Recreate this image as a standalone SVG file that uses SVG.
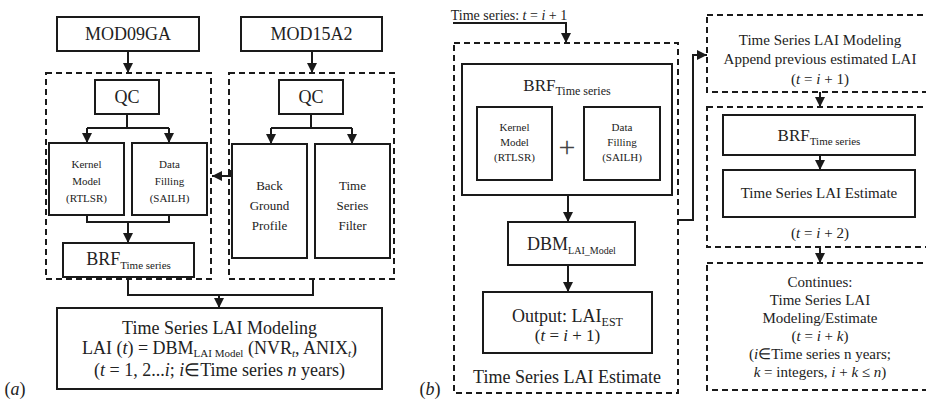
<svg xmlns="http://www.w3.org/2000/svg" width="926" height="401" viewBox="0 0 926 401">
<defs>
<marker id="ah" markerUnits="userSpaceOnUse" markerWidth="11" markerHeight="11" refX="10" refY="5" orient="auto">
<path d="M0,0 L10,5 L0,10 z" fill="#1a1a1a"/>
</marker>
<style>
.box{fill:#fff;stroke:#1a1a1a;stroke-width:2}
.dash{fill:none;stroke:#1a1a1a;stroke-width:2;stroke-dasharray:6 4}
.con{fill:none;stroke:#1a1a1a;stroke-width:2}
.arr{fill:none;stroke:#1a1a1a;stroke-width:2;marker-end:url(#ah)}
text{font-family:"Liberation Serif","Times New Roman",serif;fill:#222;text-anchor:middle}
.t18{font-size:18px}
.t17{font-size:17px}
.t15{font-size:15px}
.t13{font-size:13px}
.t11{font-size:11px}
.it{font-style:italic}
.sub{baseline-shift:-4px}
.sub3{baseline-shift:-3px}
</style>
</defs>
<rect width="926" height="401" fill="#fff"/>

<!-- panel (a) containers -->
<g id="a-group-left"><rect class="dash" x="46" y="73" width="165" height="206"/></g>
<g id="a-group-right"><rect class="dash" x="229" y="73" width="165" height="206"/></g>

<g id="mod09ga"><rect class="box" x="57" y="17" width="142" height="34"/><text class="t18" x="128" y="40">MOD09GA</text></g>
<g id="mod15a2"><rect class="box" x="241" y="17" width="141" height="34"/><text class="t18" x="311.5" y="40">MOD15A2</text></g>
<g id="qc-left"><rect class="box" x="95" y="80" width="64" height="34"/><text class="t18" x="127" y="103">QC</text></g>
<g id="qc-right"><rect class="box" x="279" y="80" width="64" height="34"/><text class="t18" x="311" y="103">QC</text></g>
<g id="kernel-a"><rect class="box" x="49" y="143" width="75" height="72"/>
<text class="t11" x="86.5" y="168">Kernel</text><text class="t11" x="86.5" y="185">Model</text><text class="t11" x="86.5" y="202">(RTLSR)</text></g>
<g id="filling-a"><rect class="box" x="132" y="143" width="75" height="72"/>
<text class="t11" x="169.5" y="168">Data</text><text class="t11" x="169.5" y="185">Filling</text><text class="t11" x="169.5" y="202">(SAILH)</text></g>
<g id="background"><rect class="box" x="232" y="144" width="75" height="114"/>
<text class="t13" x="269.5" y="190">Back</text><text class="t13" x="269.5" y="210">Ground</text><text class="t13" x="269.5" y="230">Profile</text></g>
<g id="tsfilter"><rect class="box" x="315" y="144" width="75" height="114"/>
<text class="t13" x="352.5" y="190">Time</text><text class="t13" x="352.5" y="210">Series</text><text class="t13" x="352.5" y="230">Filter</text></g>
<g id="brf-a"><rect class="box" x="63" y="243" width="131" height="34"/>
<text class="t18" x="128.5" y="265">BRF<tspan font-size="11" class="sub">Time series</tspan></text></g>
<g id="lai-modeling-a"><rect class="box" x="57" y="308" width="325" height="81"/>
<text class="t18" x="219.5" y="334">Time Series LAI Modeling</text>
<text class="t18" x="219.5" y="354">LAI (<tspan class="it">t</tspan>) = DBM<tspan font-size="11" class="sub3">LAI Model</tspan> (NVR<tspan font-size="11" class="sub3 it">t</tspan>, ANIX<tspan font-size="11" class="sub3 it">t</tspan>)</text>
<text class="t18" x="219.5" y="376">(<tspan class="it">t</tspan> = 1, 2...<tspan class="it">i</tspan>; <tspan class="it">i</tspan>∈Time series <tspan class="it">n</tspan> years)</text></g>
<g id="label-a"><text class="t18" x="15" y="395">(<tspan class="it">a</tspan>)</text></g>

<!-- panel (b) -->
<g id="b-group"><rect class="dash" x="454" y="43" width="224" height="350"/>
<text class="t18" x="567" y="383">Time Series LAI Estimate</text></g>
<g id="ts-label"><text x="509" y="20" style="font-size:14px">Time series: <tspan class="it">t</tspan> = <tspan class="it">i</tspan> + 1</text></g>
<g id="brf-b"><rect class="box" x="462" y="64" width="210" height="131"/>
<text class="t17" x="567" y="91">BRF<tspan font-size="12" class="sub">Time series</tspan></text></g>
<g id="kernel-b"><rect class="box" x="477" y="107" width="75" height="73"/>
<text class="t11" x="514.5" y="131">Kernel</text><text class="t11" x="514.5" y="146">Model</text><text class="t11" x="514.5" y="161">(RTLSR)</text></g>
<g id="plus"><text x="567" y="157" style="font-size:30px;fill:#444">+</text></g>
<g id="filling-b"><rect class="box" x="584" y="107" width="76" height="73"/>
<text class="t11" x="622" y="131">Data</text><text class="t11" x="622" y="146">Filling</text><text class="t11" x="622" y="161">(SAILH)</text></g>
<g id="dbm"><rect class="box" x="508" y="222" width="127" height="43"/>
<text class="t18" x="571.5" y="250">DBM<tspan font-size="10" class="sub">LAI_Model</tspan></text></g>
<g id="output"><rect class="box" x="483" y="292" width="169" height="61"/>
<text class="t18" x="567.5" y="322">Output: LAI<tspan font-size="12" class="sub">EST</tspan></text>
<text class="t17" x="567.5" y="341">(<tspan class="it">t</tspan> = <tspan class="it">i</tspan> + 1)</text></g>
<g id="label-b"><text class="t18" x="430" y="395">(<tspan class="it">b</tspan>)</text></g>

<!-- right column -->
<g id="ts-modeling-next"><rect class="dash" x="707" y="15" width="227" height="77"/>
<text class="t15" x="820" y="45">Time Series LAI Modeling</text>
<text class="t15" x="820" y="64">Append previous estimated LAI</text>
<text class="t15" x="820" y="84">(<tspan class="it">t</tspan> = <tspan class="it">i</tspan> + 1)</text></g>
<g id="ts-estimate-next"><rect class="dash" x="707" y="107" width="227" height="140"/>
<text class="t15" x="820" y="238">(<tspan class="it">t</tspan> = <tspan class="it">i</tspan> + 2)</text></g>
<g id="brf-c"><rect class="box" x="723" y="115" width="192" height="40"/>
<text class="t17" x="819" y="141">BRF<tspan font-size="11" class="sub">Time series</tspan></text></g>
<g id="estimate-c"><rect class="box" x="723" y="170" width="192" height="47"/>
<text class="t15" x="819" y="198">Time Series LAI Estimate</text></g>
<g id="continues"><rect class="dash" x="707" y="263" width="227" height="127"/>
<text class="t15" x="820" y="287">Continues:</text>
<text class="t15" x="820" y="305">Time Series LAI</text>
<text class="t15" x="820" y="323">Modeling/Estimate</text>
<text class="t15" x="820" y="341">(<tspan class="it">t</tspan> = <tspan class="it">i</tspan> + <tspan class="it">k</tspan>)</text>
<text class="t15" x="820" y="359">(<tspan class="it">i</tspan>∈Time series n years;</text>
<text class="t15" x="820" y="377"><tspan class="it">k</tspan> = integers, <tspan class="it">i</tspan> + <tspan class="it">k</tspan> ≤ <tspan class="it">n</tspan>)</text></g>

<g id="connectors">
<path class="arr" d="M128,51 V73"/>
<path class="arr" d="M312,51 V73"/>
<path class="con" d="M127,114 V128 M87,128 H169"/>
<path class="arr" d="M87,128 V143"/>
<path class="arr" d="M169,128 V143"/>
<path class="con" d="M311,114 V128 M271,128 H352"/>
<path class="arr" d="M271,128 V144"/>
<path class="arr" d="M352,128 V144"/>
<path class="con" d="M87,215 V222 H169 V215"/>
<path class="arr" d="M128,222 V243"/>
<path class="arr" d="M230,170 V176 H212"/>
<path class="con" d="M128,279 V295 H313 V279"/>
<path class="arr" d="M219,295 V308"/>
<path class="arr" d="M453,23 H566 V43"/>
<path class="arr" d="M568,195 V222"/>
<path class="arr" d="M568,265 V292"/>
<path class="arr" d="M678,220 H693 V55 H707"/>
<path class="arr" d="M820,92 V107"/>
<path class="arr" d="M820,155 V170"/>
<path class="arr" d="M820,247 V263"/>
</g>
</svg>
